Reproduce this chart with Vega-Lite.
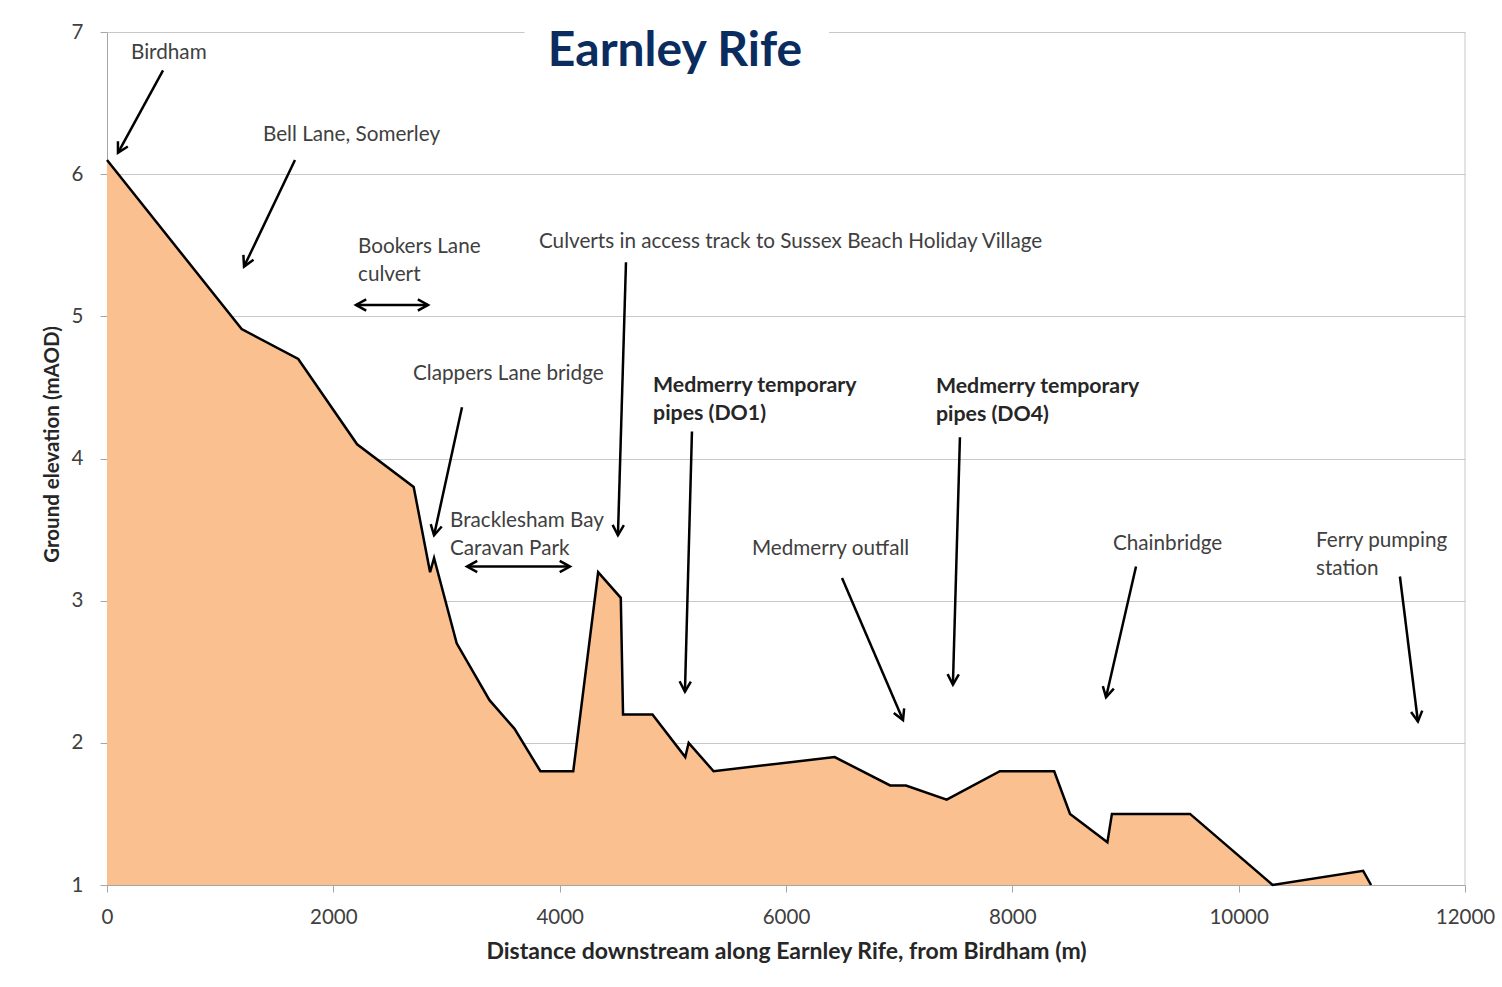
{
  "$schema": "https://vega.github.io/schema/vega-lite/v6.json",
  "width": 1358,
  "height": 853,
  "autosize": {"type": "none"},
  "padding": {"left": 107, "top": 32, "right": 37, "bottom": 102},
  "background": "white",
  "config": {
    "view": {"stroke": null},
    "font": "Lato",
    "axis": {
      "labelFont": "Lato",
      "labelFontSize": 20.5,
      "labelColor": "#404040",
      "titleFont": "Lato",
      "titleFontWeight": "bold",
      "titleColor": "#262626",
      "domainColor": "#a6a6a6",
      "tickColor": "#a6a6a6",
      "tickSize": 7,
      "gridColor": "#c8c8c8",
      "gridWidth": 1
    }
  },
  "datasets": {
    "profile": [
      {"distance": 0, "elevation": 6.1},
      {"distance": 1190, "elevation": 4.91},
      {"distance": 1690, "elevation": 4.7},
      {"distance": 2210, "elevation": 4.1},
      {"distance": 2710, "elevation": 3.8},
      {"distance": 2855, "elevation": 3.2},
      {"distance": 2890, "elevation": 3.3},
      {"distance": 3090, "elevation": 2.7},
      {"distance": 3380, "elevation": 2.3},
      {"distance": 3600, "elevation": 2.1},
      {"distance": 3830, "elevation": 1.8},
      {"distance": 4120, "elevation": 1.8},
      {"distance": 4340, "elevation": 3.2},
      {"distance": 4540, "elevation": 3.02},
      {"distance": 4560, "elevation": 2.2},
      {"distance": 4820, "elevation": 2.2},
      {"distance": 5110, "elevation": 1.9},
      {"distance": 5140, "elevation": 2.0},
      {"distance": 5360, "elevation": 1.8},
      {"distance": 6430, "elevation": 1.9},
      {"distance": 6920, "elevation": 1.7},
      {"distance": 7060, "elevation": 1.7},
      {"distance": 7420, "elevation": 1.6},
      {"distance": 7890, "elevation": 1.8},
      {"distance": 8370, "elevation": 1.8},
      {"distance": 8510, "elevation": 1.5},
      {"distance": 8840, "elevation": 1.3},
      {"distance": 8880, "elevation": 1.5},
      {"distance": 9570, "elevation": 1.5},
      {"distance": 10300, "elevation": 1.0},
      {"distance": 11100, "elevation": 1.1},
      {"distance": 11170, "elevation": 1.0}
    ],
    "arrows": [
      {"x": 495, "y": 6.73, "x2": 97, "y2": 6.15, "double": false},
      {"x": 1661, "y": 6.1, "x2": 1211, "y2": 5.35, "double": false},
      {"x": 2200, "y": 5.08, "x2": 2837, "y2": 5.08, "double": true},
      {"x": 3137, "y": 4.36, "x2": 2890, "y2": 3.46, "double": false},
      {"x": 3181, "y": 3.24, "x2": 4091, "y2": 3.24, "double": true},
      {"x": 4586, "y": 5.38, "x2": 4515, "y2": 3.46, "double": false},
      {"x": 5169, "y": 4.19, "x2": 5107, "y2": 2.36, "double": false},
      {"x": 6495, "y": 3.16, "x2": 7034, "y2": 2.16, "double": false},
      {"x": 7537, "y": 4.15, "x2": 7475, "y2": 2.41, "double": false},
      {"x": 9093, "y": 3.24, "x2": 8828, "y2": 2.32, "double": false},
      {"x": 11425, "y": 3.17, "x2": 11584, "y2": 2.15, "double": false}
    ],
    "labels": [
      {"x": 212, "y": 6.852, "label": "Birdham", "bold": false},
      {"x": 1378, "y": 6.275, "label": "Bell Lane, Somerley", "bold": false},
      {"x": 2218, "y": 5.488, "label": "Bookers Lane\nculvert", "bold": false},
      {"x": 2704, "y": 4.594, "label": "Clappers Lane bridge", "bold": false},
      {"x": 3031, "y": 3.56, "label": "Bracklesham Bay\nCaravan Park", "bold": false},
      {"x": 3817, "y": 5.523, "label": "Culverts in access track to Sussex Beach Holiday Village", "bold": false},
      {"x": 4825, "y": 4.51, "label": "Medmerry temporary\npipes (DO1)", "bold": true},
      {"x": 5699, "y": 3.363, "label": "Medmerry outfall", "bold": false},
      {"x": 7325, "y": 4.503, "label": "Medmerry temporary\npipes (DO4)", "bold": true},
      {"x": 8889, "y": 3.399, "label": "Chainbridge", "bold": false},
      {"x": 10683, "y": 3.42, "label": "Ferry pumping\nstation", "bold": false}
    ]
  },
  "layer": [
    {
      "data": {"name": "profile"},
      "mark": {"type": "area", "color": "#FAC090", "opacity": 1},
      "encoding": {
        "x": {
          "field": "distance", "type": "quantitative",
          "scale": {"domain": [0, 12000], "nice": false, "zero": false},
          "axis": {
            "values": [0, 2000, 4000, 6000, 8000, 10000, 12000],
            "format": "d",
            "grid": false,
            "labelFlush": false,
            "labelPadding": 15,
            "titlePadding": 13,
            "titleFontSize": 23,
            "title": "Distance downstream along Earnley Rife, from Birdham (m)"
          }
        },
        "y": {
          "field": "elevation", "type": "quantitative",
          "scale": {"domain": [1, 7], "nice": false, "zero": false},
          "axis": {
            "values": [1, 2, 3, 4, 5, 6, 7],
            "format": "d",
            "grid": true,
            "labelFlush": false,
            "labelPadding": 17,
            "titlePadding": 9,
            "titleFontSize": 20.5,
            "titleY": 412,
            "title": "Ground elevation (mAOD)"
          }
        },
        "y2": {"datum": 1}
      }
    },
    {
      "data": {"values": [{}]},
      "mark": {"type": "rule", "color": "#c8c8c8", "strokeWidth": 1},
      "encoding": {"x": {"datum": 12000}}
    },
    {
      "data": {"values": [{}]},
      "mark": {"type": "rect", "color": "white"},
      "encoding": {
        "x": {"datum": 3690},
        "x2": {"datum": 6380},
        "y": {"datum": 7.12},
        "y2": {"datum": 6.55}
      }
    },
    {
      "data": {"values": [{}]},
      "mark": {"type": "text", "text": "Earnley Rife", "font": "Lato", "fontSize": 48, "fontWeight": "bold", "color": "#0B2C5F", "align": "center", "baseline": "middle"},
      "encoding": {
        "x": {"datum": 5019},
        "y": {"datum": 6.86}
      }
    },
    {
      "data": {"name": "profile"},
      "mark": {"type": "line", "color": "black", "strokeWidth": 2.5, "strokeJoin": "miter"},
      "encoding": {
        "x": {"field": "distance", "type": "quantitative"},
        "y": {"field": "elevation", "type": "quantitative"}
      }
    },
    {
      "data": {"name": "arrows"},
      "mark": {"type": "rule", "color": "black", "strokeWidth": 2.5},
      "encoding": {
        "x": {"field": "x", "type": "quantitative"},
        "y": {"field": "y", "type": "quantitative"},
        "x2": {"field": "x2"},
        "y2": {"field": "y2"}
      }
    },
    {
      "data": {"name": "arrows"},
      "transform": [
        {"calculate": "atan2((datum.x2 - datum.x) * 1358 / 12000, (datum.y2 - datum.y) * 853 / 6) * 180 / PI", "as": "ang"}
      ],
      "mark": {"type": "point", "shape": "M-0.55,1L0,0L0.55,1", "filled": false, "stroke": "black", "strokeWidth": 2.5, "size": 420, "opacity": 1},
      "encoding": {
        "x": {"field": "x2", "type": "quantitative"},
        "y": {"field": "y2", "type": "quantitative"},
        "angle": {"field": "ang", "type": "quantitative", "scale": null}
      }
    },
    {
      "data": {"name": "arrows"},
      "transform": [
        {"filter": "datum.double"},
        {"calculate": "atan2((datum.x - datum.x2) * 1358 / 12000, (datum.y - datum.y2) * 853 / 6) * 180 / PI", "as": "ang"}
      ],
      "mark": {"type": "point", "shape": "M-0.55,1L0,0L0.55,1", "filled": false, "stroke": "black", "strokeWidth": 2.5, "size": 420, "opacity": 1},
      "encoding": {
        "x": {"field": "x", "type": "quantitative"},
        "y": {"field": "y", "type": "quantitative"},
        "angle": {"field": "ang", "type": "quantitative", "scale": null}
      }
    },
    {
      "data": {"name": "labels"},
      "transform": [{"filter": "!datum.bold"}],
      "mark": {"type": "text", "align": "left", "baseline": "middle", "font": "Lato", "fontSize": 20.7, "color": "#404040", "lineBreak": "\n", "lineHeight": 28},
      "encoding": {
        "x": {"field": "x", "type": "quantitative"},
        "y": {"field": "y", "type": "quantitative"},
        "text": {"field": "label"}
      }
    },
    {
      "data": {"name": "labels"},
      "transform": [{"filter": "datum.bold"}],
      "mark": {"type": "text", "align": "left", "baseline": "middle", "font": "Lato", "fontSize": 21.3, "fontWeight": "bold", "color": "#262626", "lineBreak": "\n", "lineHeight": 28},
      "encoding": {
        "x": {"field": "x", "type": "quantitative"},
        "y": {"field": "y", "type": "quantitative"},
        "text": {"field": "label"}
      }
    }
  ]
}
